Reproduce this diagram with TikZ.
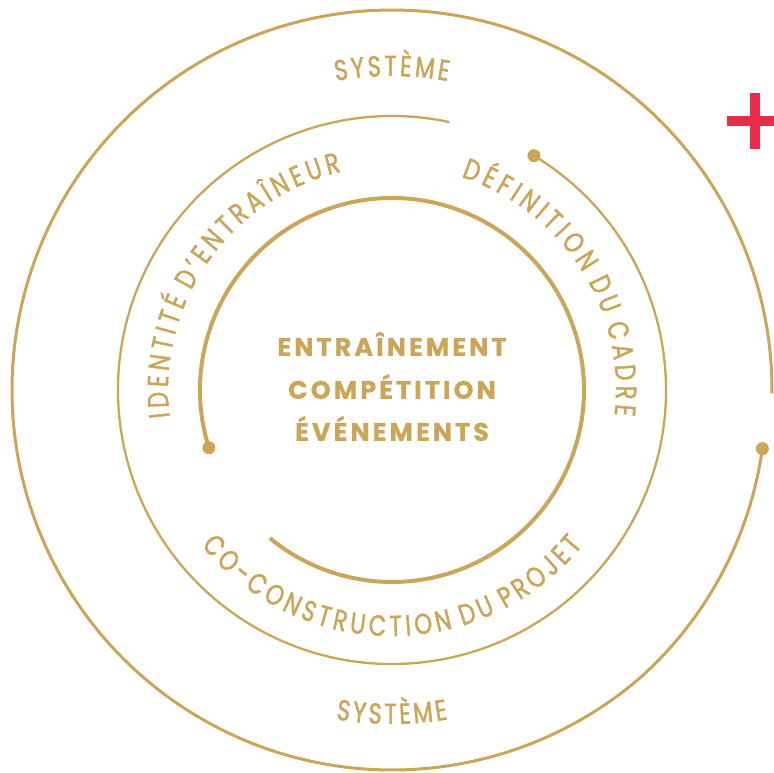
\documentclass[tikz,border=0pt]{standalone}
\usepackage{fontspec}
\setmainfont{Poppins}
\usetikzlibrary{decorations.text}
\definecolor{gold}{RGB}{203,165,88}
\definecolor{plusred}{RGB}{234,44,74}
\newfontfamily\centerfont{Poppins}[LetterSpace=12, FakeBold=0.6]
\newfontfamily\ringfont{Poppins}[FakeBold=1.5, FakeStretch=0.78]
\newcommand\arcfnt{\ringfont\fontsize{29}{29}\selectfont\color{gold}}
\newcommand\trka{\kern4.2pt}
\newcommand\trkb{\kern4.5pt}
\newcommand\trkc{\kern4.1pt}
\newcommand\trks{\kern3pt}
\tikzset{
  dotnode/.style={circle, fill=gold, inner sep=0pt, minimum size=13pt},
  innerring/.style={draw=gold, line width=4pt},
  midring/.style={draw=gold, line width=2.3pt},
  outerring/.style={draw=gold, line width=3pt},
  centerlabel/.style={text=gold, font=\centerfont\bfseries\fontsize{25.5}{25.5}\selectfont, anchor=base, inner sep=0pt},
  arclabel/.style={decorate, decoration={text along path, text align=center, text={#1}}},
}
\begin{document}
\begin{tikzpicture}[x=1pt,y=1pt]
\useasboundingbox (-392,-382) rectangle (382,390);
\clip (-392,-382) rectangle (382,390);
% dots
\node[dotnode] (dinner) at (197.5:192) {};
\node[dotnode] (dmid) at (58.8:274) {};
\node[dotnode] (douter) at (-9:375) {};
% spiral arcs
\draw[innerring] (dinner.center) arc[start angle=197.5, end angle=-129.5, radius=192];
\draw[midring] (dmid.center) arc[start angle=58.8, end angle=-282.1, radius=274];
\draw[outerring] plot[domain=-9:-360.5, samples=300, smooth] (\x:{375+5*min(1,(-9-\x)/40)});
% centre text
\node[centerlabel] (l1) at (0,34.1) {ENTRAÎNEMENT};
\node[centerlabel] (l2) at (0,-8.9) {COMPÉTITION};
\node[centerlabel] (l3) at (0,-50.9) {ÉVÉNEMENTS};
% arc texts
\path[arclabel={|\arcfnt|{I\trka}{D\trka}{E\trka}{N\trka}{T\trka}{I\trka}{T\trka}{É\trka} {D\trka}{’\trka}{E\trka}{N\trka}{T\trka}{R\trka}{A\trka}{Î\trka}{N\trka}{E\trka}{U\trka}{R}}] (215:224) arc[start angle=215, end angle=75, radius=224];
\path[arclabel={|\arcfnt|{D\trkb}{É\trkb}{F\trkb}{I\trkb}{N\trkb}{I\trkb}{T\trkb}{I\trkb}{O\trkb}{N\trkb} {D\trkb}{U\trkb} {C\trkb}{A\trkb}{D\trkb}{R\trkb}{E}}] (102.75:224) arc[start angle=102.75, end angle=-37.25, radius=224];
\path[arclabel={|\arcfnt|{C\trkc}{O\trkc}{-\trkc}{C\trkc}{O\trkc}{N\trkc}{S\trkc}{T\trkc}{R\trkc}{U\trkc}{C\trkc}{T\trkc}{I\trkc}{O\trkc}{N\trkc} {D\trkc}{U\trkc} {P\trkc}{R\trkc}{O\trkc}{J\trkc}{E\trkc}{T}}] (190:246) arc[start angle=190, end angle=350, radius=246];
\path[arclabel={|\arcfnt|{S\trks}{Y\trks}{S\trks}{T\trks}{È\trks}{M\trks}{E}}] (120:314) arc[start angle=120, end angle=60, radius=314];
\path[arclabel={|\arcfnt|{S\trks}{Y\trks}{S\trks}{T\trks}{È\trks}{M\trks}{E}}] (240:334) arc[start angle=240, end angle=300, radius=334];
% red plus
\fill[plusred] (358,241) rectangle (368,297);
\fill[plusred] (335,264) rectangle (391,274);
\end{tikzpicture}
\end{document}
